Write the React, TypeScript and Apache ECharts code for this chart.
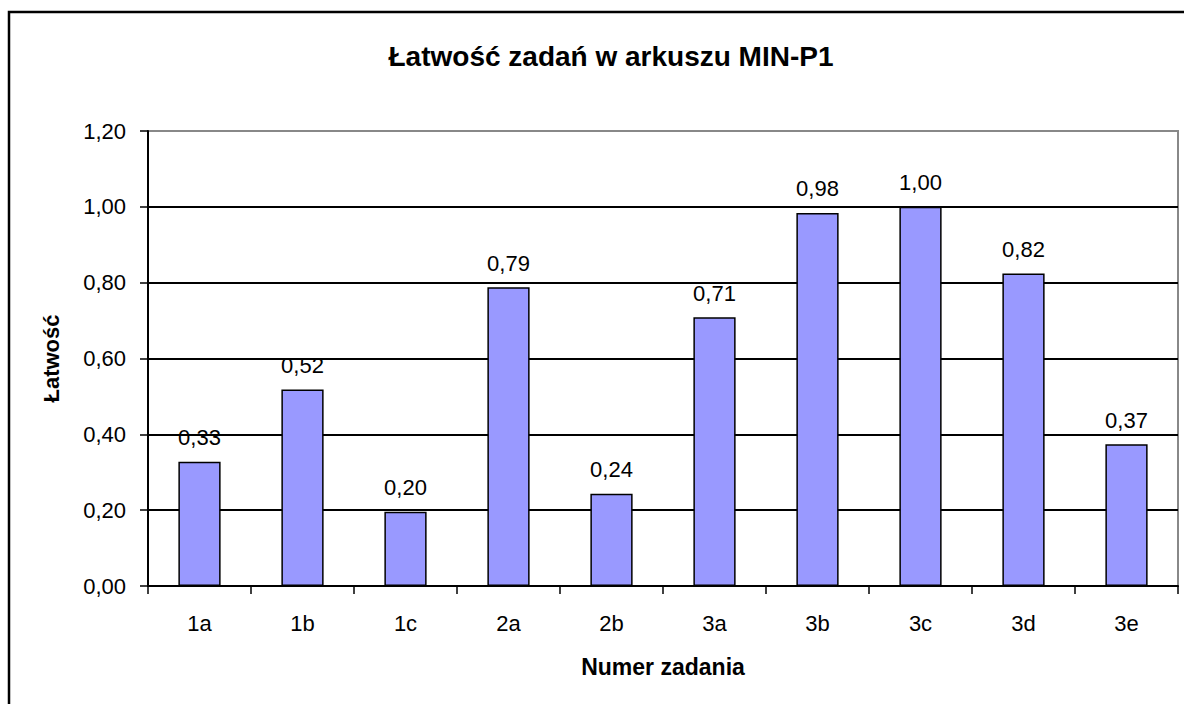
import React, { useEffect, useRef } from "react";
import * as echarts from "echarts";

const categories = ["1a", "1b", "1c", "2a", "2b", "3a", "3b", "3c", "3d", "3e"];
const values = [0.328, 0.518, 0.196, 0.788, 0.243, 0.709, 0.984, 1.0, 0.824, 0.374];
const yTicks = { min: 0, max: 1.2, interval: 0.2 };
const title = "Łatwość zadań w arkuszu MIN-P1";
const yName = "Łatwość";
const xName = "Numer zadania";

const FONT = "'Liberation Sans', Arial, sans-serif";

export default function App() {
  const ref = useRef<HTMLDivElement>(null);
  useEffect(() => {
    if (!ref.current) return;
    const chart = echarts.init(ref.current, null, { renderer: "svg" });
    chart.setOption({
      animation: false,
      backgroundColor: "#fff",
      textStyle: { fontFamily: FONT },
      title: {
        text: title,
        left: 606,
        top: 37,
        textAlign: "center",
        textStyle: { fontFamily: FONT, fontSize: 28, fontWeight: "bold", color: "#000" },
      },
      graphic: [
        {
          type: "rect",
          shape: { x: 9, y: 12, width: 1400, height: 900 },
          style: { fill: "none", stroke: "#000", lineWidth: 2.5 },
          z: 100,
        },
      ],
      grid: {
        left: 148,
        right: 6,
        top: 131,
        bottom: 118,
        show: true,
        borderColor: "#888",
        borderWidth: 2,
      },
      xAxis: {
        type: "category",
        data: categories,
        name: xName,
        nameLocation: "middle",
        nameGap: 69,
        nameTextStyle: { fontFamily: FONT, fontSize: 23, fontWeight: "bold", color: "#000" },
        axisLine: { lineStyle: { color: "#000", width: 2 } },
        axisTick: { show: true, length: 8, lineStyle: { color: "#000", width: 1.5 }, alignWithLabel: false },
        axisLabel: { margin: 26, fontSize: 22, color: "#000", fontFamily: FONT },
      },
      yAxis: {
        type: "value",
        min: yTicks.min,
        max: yTicks.max,
        interval: yTicks.interval,
        name: yName,
        nameLocation: "middle",
        nameGap: 86,
        nameTextStyle: { fontFamily: FONT, fontSize: 22, fontWeight: "bold", color: "#000" },
        axisLine: { show: true, lineStyle: { color: "#000", width: 2 } },
        axisTick: { show: true, length: 8, lineStyle: { color: "#000", width: 1.5 } },
        axisLabel: {
          margin: 22,
          fontSize: 22,
          color: "#000",
          fontFamily: FONT,
          formatter: (v: number) => v.toFixed(2).replace(".", ","),
        },
        splitLine: {
          show: true,
          lineStyle: { color: ["#000", "#000", "#000", "#000", "#000", "#000", "#888"], width: 2 },
        },
      },
      series: [
        {
          type: "bar",
          data: values,
          barWidth: "41%",
          itemStyle: { color: "#9999FF", borderColor: "#000", borderWidth: 1.5 },
          label: {
            show: true,
            position: "top",
            distance: 13,
            fontSize: 22,
            color: "#000",
            fontFamily: FONT,
            formatter: (p: any) => Number(p.value).toFixed(2).replace(".", ","),
          },
        },
      ],
    });
    return () => chart.dispose();
  }, []);
  return (
    <div
      ref={ref}
      style={{ position: "absolute", left: 0, top: 0, width: 1184, height: 704 }}
    />
  );
}
